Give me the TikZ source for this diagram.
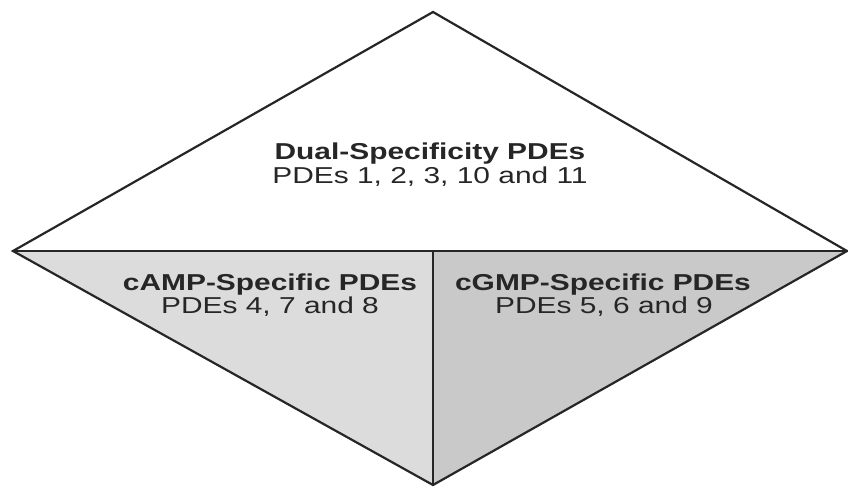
\documentclass[tikz,border=0pt]{standalone}
\usepackage{fontspec}
\setmainfont{Liberation Sans}
\newfontfamily\widesans[FakeStretch=1.3]{Liberation Sans}
\definecolor{campgray}{HTML}{DCDCDC}
\definecolor{cgmpgray}{HTML}{C9C9C9}
\tikzset{
	title/.style={font=\widesans\fontsize{23}{26}\selectfont\bfseries, text=black!85, inner sep=0pt, anchor=base},
	members/.style={font=\widesans\fontsize{23}{26}\selectfont, text=black!85, inner sep=0pt, anchor=base},
	edge/.style={draw=black!85, line width=2.2pt, line join=miter}
}
\begin{document}
\begin{tikzpicture}[x=1pt, y=-1pt]
	\useasboundingbox (0,0) rectangle (848,488);
	\coordinate (top) at (433,12);
	\coordinate (left) at (13,251);
	\coordinate (right) at (847,251);
	\coordinate (bottom) at (433,485);
	\coordinate (mid) at (433,251);
	
	\fill[campgray] (left) -- (mid) -- (bottom) -- cycle;
	\fill[cgmpgray] (mid) -- (right) -- (bottom) -- cycle;
	\draw[edge] (top) -- (right) -- (bottom) -- (left) -- cycle;
	\draw[edge] (left) -- (right);
	\draw[edge] (mid) -- (bottom);
	
	\node[title] (dual) at (430,159) {Dual-Specificity PDEs};
	\node[members] (dualpdes) at (430,183) {PDEs 1, 2, 3, 10 and 11};
	\node[title] (camp) at (270,290) {cAMP-Specific PDEs};
	\node[members] (camppdes) at (270,313) {PDEs 4, 7 and 8};
	\node[title] (cgmp) at (603,290) {cGMP-Specific PDEs};
	\node[members] (cgmppdes) at (604,313) {PDEs 5, 6 and 9};
	
\end{tikzpicture}
\end{document}
